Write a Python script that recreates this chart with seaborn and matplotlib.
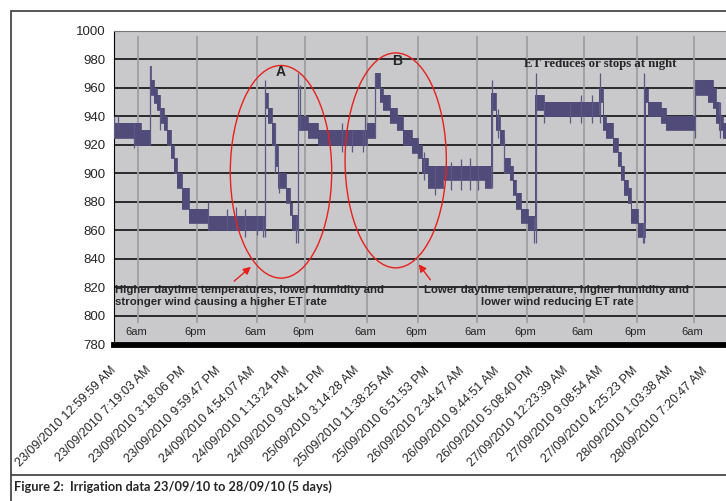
import numpy as np
import pandas as pd
import matplotlib.pyplot as plt
import matplotlib.transforms as mtransforms
from matplotlib.patches import Ellipse, Rectangle
from matplotlib.lines import Line2D
import seaborn as sns

# sensor band: start of each step, lower and upper edge
seg_pos = [0, 20, 27, 36, 37.3, 39.7, 43, 46.3, 49.7, 53, 57.3, 59.7, 63, 68, 74.7, 94,
           151.3, 154.3, 157.7, 161, 163.7, 171.7, 176, 177.7, 183.5, 194.3, 204.3,
           252.7, 261, 266, 269.3, 276, 282.7, 289.3, 297.7, 304.3, 308, 314, 329,
           370.7, 377.3, 382.3, 385.7, 390, 395.7, 399, 402.3, 407.3, 414, 421.3,
           430, 485.3, 488.7, 492, 498.7, 503.7, 507, 510.3, 513.7, 517, 523.7,
           530.5, 533.7, 547, 552, 581, 593.7, 598.7, 602, 605.3, 608.7]
seg_low = [925, 920, 920, 965, 955, 949, 944, 935, 930, 920, 911, 900, 890, 875, 865, 860,
           946, 935, 920, 905, 890, 879, 871, 860, 930, 925, 920,
           925, 960, 950, 944, 935, 930, 920, 914, 911, 900, 890, 895,
           890, 944, 930, 920, 900, 895, 885, 875, 865, 860, 944,
           940, 950, 930, 925, 915, 905, 895, 885, 879, 865, 855,
           950, 940, 935, 930, 955, 950, 946, 935, 930, 925]
seg_high = [935, 935, 930, 975, 965, 960, 955, 946, 940, 930, 920, 911, 900, 890, 875, 870,
            956, 946, 935, 920, 900, 890, 879, 871, 940, 935, 930,
            935, 970, 960, 955, 946, 940, 930, 925, 920, 911, 905, 905,
            905, 956, 940, 930, 911, 905, 895, 886, 875, 870, 955,
            950, 960, 940, 935, 925, 915, 905, 895, 890, 875, 865,
            959, 950, 946, 940, 965, 965, 960, 950, 940, 935]
series_end = 612

# single readings that stick out of the band (thin lines)
spike_pos = [0, 4, 20, 36, 46, 94, 113, 122, 131, 143, 149, 150.5, 161, 165, 182, 183.5,
             186, 228, 238, 249, 251, 261, 310, 321, 337, 347, 356, 364, 377.5, 384,
             390, 420, 421.5, 430, 456, 467, 478, 486, 529, 530, 580.5, 606]
spike_low = [925, 930, 918, 920, 930, 860, 860, 860, 855, 857, 855, 855, 900, 886, 851, 851,
             930, 915, 915, 915, 920, 925, 895, 885, 888, 888, 888, 888, 890, 925,
             900, 851, 851, 935, 935, 935, 935, 935, 851, 851, 925, 925]
spike_high = [940, 940, 935, 975, 946, 880, 875, 876, 875, 870, 870, 965, 935, 900, 871, 970,
              962, 935, 930, 930, 940, 970, 915, 905, 908, 910, 911, 905, 965, 945,
              925, 870, 970, 950, 950, 955, 955, 970, 865, 970, 965, 950]

# 6am / 6pm markers
day_pos = [24, 83, 143, 191, 253, 304, 363, 413, 470, 523, 580]
day_text = ["6am", "6pm", "6am", "6pm", "6am", "6pm", "6am", "6pm", "6am", "6pm", "6am"]

time_labels = ["23/09/2010 12:59:59 AM", "23/09/2010 7:19:03 AM", "23/09/2010 3:18:06 PM",
               "23/09/2010 9:59:47 PM", "24/09/2010 4:54:07 AM", "24/09/2010 1:13:24 PM",
               "24/09/2010 9:04:41 PM", "25/09/2010 3:14:28 AM", "25/09/2010 11:38:25 AM",
               "25/09/2010 6:51:53 PM", "26/09/2010 2:34:47 AM", "26/09/2010 9:44:51 AM",
               "26/09/2010 5:08:40 PM", "27/09/2010 12:23:39 AM", "27/09/2010 9:08:54 AM",
               "27/09/2010 4:25:23 PM", "28/09/2010 1:03:38 AM", "28/09/2010 7:20:47 AM"]

sns.set_style("white")
plt.rcParams["font.family"] = ["Liberation Sans", "DejaVu Sans"]

band = pd.DataFrame({"pos": seg_pos + [series_end],
                     "low": seg_low + [seg_low[-1]],
                     "high": seg_high + [seg_high[-1]]})

band_col = "#504b78"
fig = plt.figure(figsize=(7.26, 5.01), dpi=100)
ax = fig.add_axes([114 / 726, 1 - 344.5 / 501, 612 / 726, 314 / 501])
ax.set_facecolor("#c9c9cb")

for y in range(800, 1000, 20):
    ax.axhline(y, color="black", lw=1.1, zorder=1)
ax.vlines(day_pos, 795, 996, color="#a0a0a2", lw=1.3, zorder=1)
for p, t in zip(day_pos, day_text):
    ax.text(p - 2, 789, t, ha="center", va="center", fontsize=8, zorder=2,
            family=["Liberation Sans Narrow", "Liberation Sans", "DejaVu Sans"])

ax.fill_between(band["pos"], band["low"], band["high"], step="post",
                color=band_col, lw=0, zorder=3)
sns.lineplot(data=band, x="pos", y="low", drawstyle="steps-post", color=band_col,
             lw=0.6, ax=ax, zorder=3)
sns.lineplot(data=band, x="pos", y="high", drawstyle="steps-post", color=band_col,
             lw=0.6, ax=ax, zorder=3)
ax.vlines(spike_pos, spike_low, spike_high, color="#5c5884", lw=0.9, zorder=3)

# circles, arrows and notes
ax.add_patch(Ellipse((167, 901), 101.4, 149, fill=False, ec="#e8201c", lw=1.0, zorder=4))
ax.add_patch(Ellipse((281.7, 909), 101.3, 150.6, fill=False, ec="#e8201c", lw=1.0, zorder=4))
ax.annotate("", xy=(139, 835.7), xytext=(118, 823.1), zorder=4,
            arrowprops=dict(arrowstyle="-|>", color="#e8201c", lw=1.0, mutation_scale=11))
ax.annotate("", xy=(303, 837.8), xytext=(318, 823.8), zorder=4,
            arrowprops=dict(arrowstyle="-|>", color="#e8201c", lw=1.0, mutation_scale=11))
ax.text(167, 971, "A", ha="center", va="center", fontsize=10, fontweight="bold", zorder=5)
ax.text(283, 978.6, "B", ha="center", va="center", fontsize=10, fontweight="bold", zorder=5)
ax.text(486, 976.5, "ET reduces or stops at night", ha="center", va="center", fontsize=9.2,
        fontweight="bold", family=["Liberation Serif", "DejaVu Serif"], zorder=5)
ax.text(1, 814, "Higher daytime temperatures, lower humidity and\nstronger wind causing a higher ET rate",
        ha="left", va="center", fontsize=8.2, fontweight="bold", linespacing=1.2, zorder=5)
ax.text(443, 814, "Lower daytime temperature, higher humidity and\nlower wind reducing ET rate",
        ha="center", va="center", multialignment="center", fontsize=8.2, fontweight="bold",
        linespacing=1.2, zorder=5)

ax.set_xlim(0, series_end)
ax.set_ylim(780, 1000)
ax.set_yticks(range(780, 1001, 20))
ax.set_xticks([])
tick_pos = np.arange(len(time_labels)) * 34.8
shift = mtransforms.ScaledTranslation(-0.04, -0.2, fig.dpi_scale_trans)
for p, lab in zip(tick_pos, time_labels):
    ax.text(p, 0, lab, transform=ax.get_xaxis_transform() + shift, rotation=45,
            ha="right", va="top", rotation_mode="anchor", fontsize=9, clip_on=False)
ax.tick_params(axis="y", length=4, width=0.8, color="black", pad=2, labelsize=9.5, direction="out")
ax.set_xlabel("")
ax.set_ylabel("")
ax.spines["bottom"].set_linewidth(4.2)
ax.spines["bottom"].set_color("black")
ax.spines["left"].set_linewidth(0.8)
ax.spines["left"].set_color("black")
ax.spines["top"].set_color("#777777")
ax.spines["top"].set_linewidth(0.8)
ax.spines["right"].set_visible(False)

# page frame and caption
fig.add_artist(Rectangle((10.7 / 726, 1 - 475 / 501), 1.0, (475 - 10.7) / 501,
                         transform=fig.transFigure, fill=False, ec="#3a3a3a", lw=1.2))
fig.add_artist(Line2D([10.7 / 726, 10.7 / 726], [0, 1 - 475 / 501],
                      transform=fig.transFigure, color="#3a3a3a", lw=1.2))
fig.text(14 / 726, 1 - 487 / 501, "Figure 2:  Irrigation data 23/09/10 to 28/09/10 (5 days)",
         fontsize=9.2, fontweight="bold", va="center", family=["Lato", "DejaVu Sans"])

fig.savefig("out.png", dpi=100)
